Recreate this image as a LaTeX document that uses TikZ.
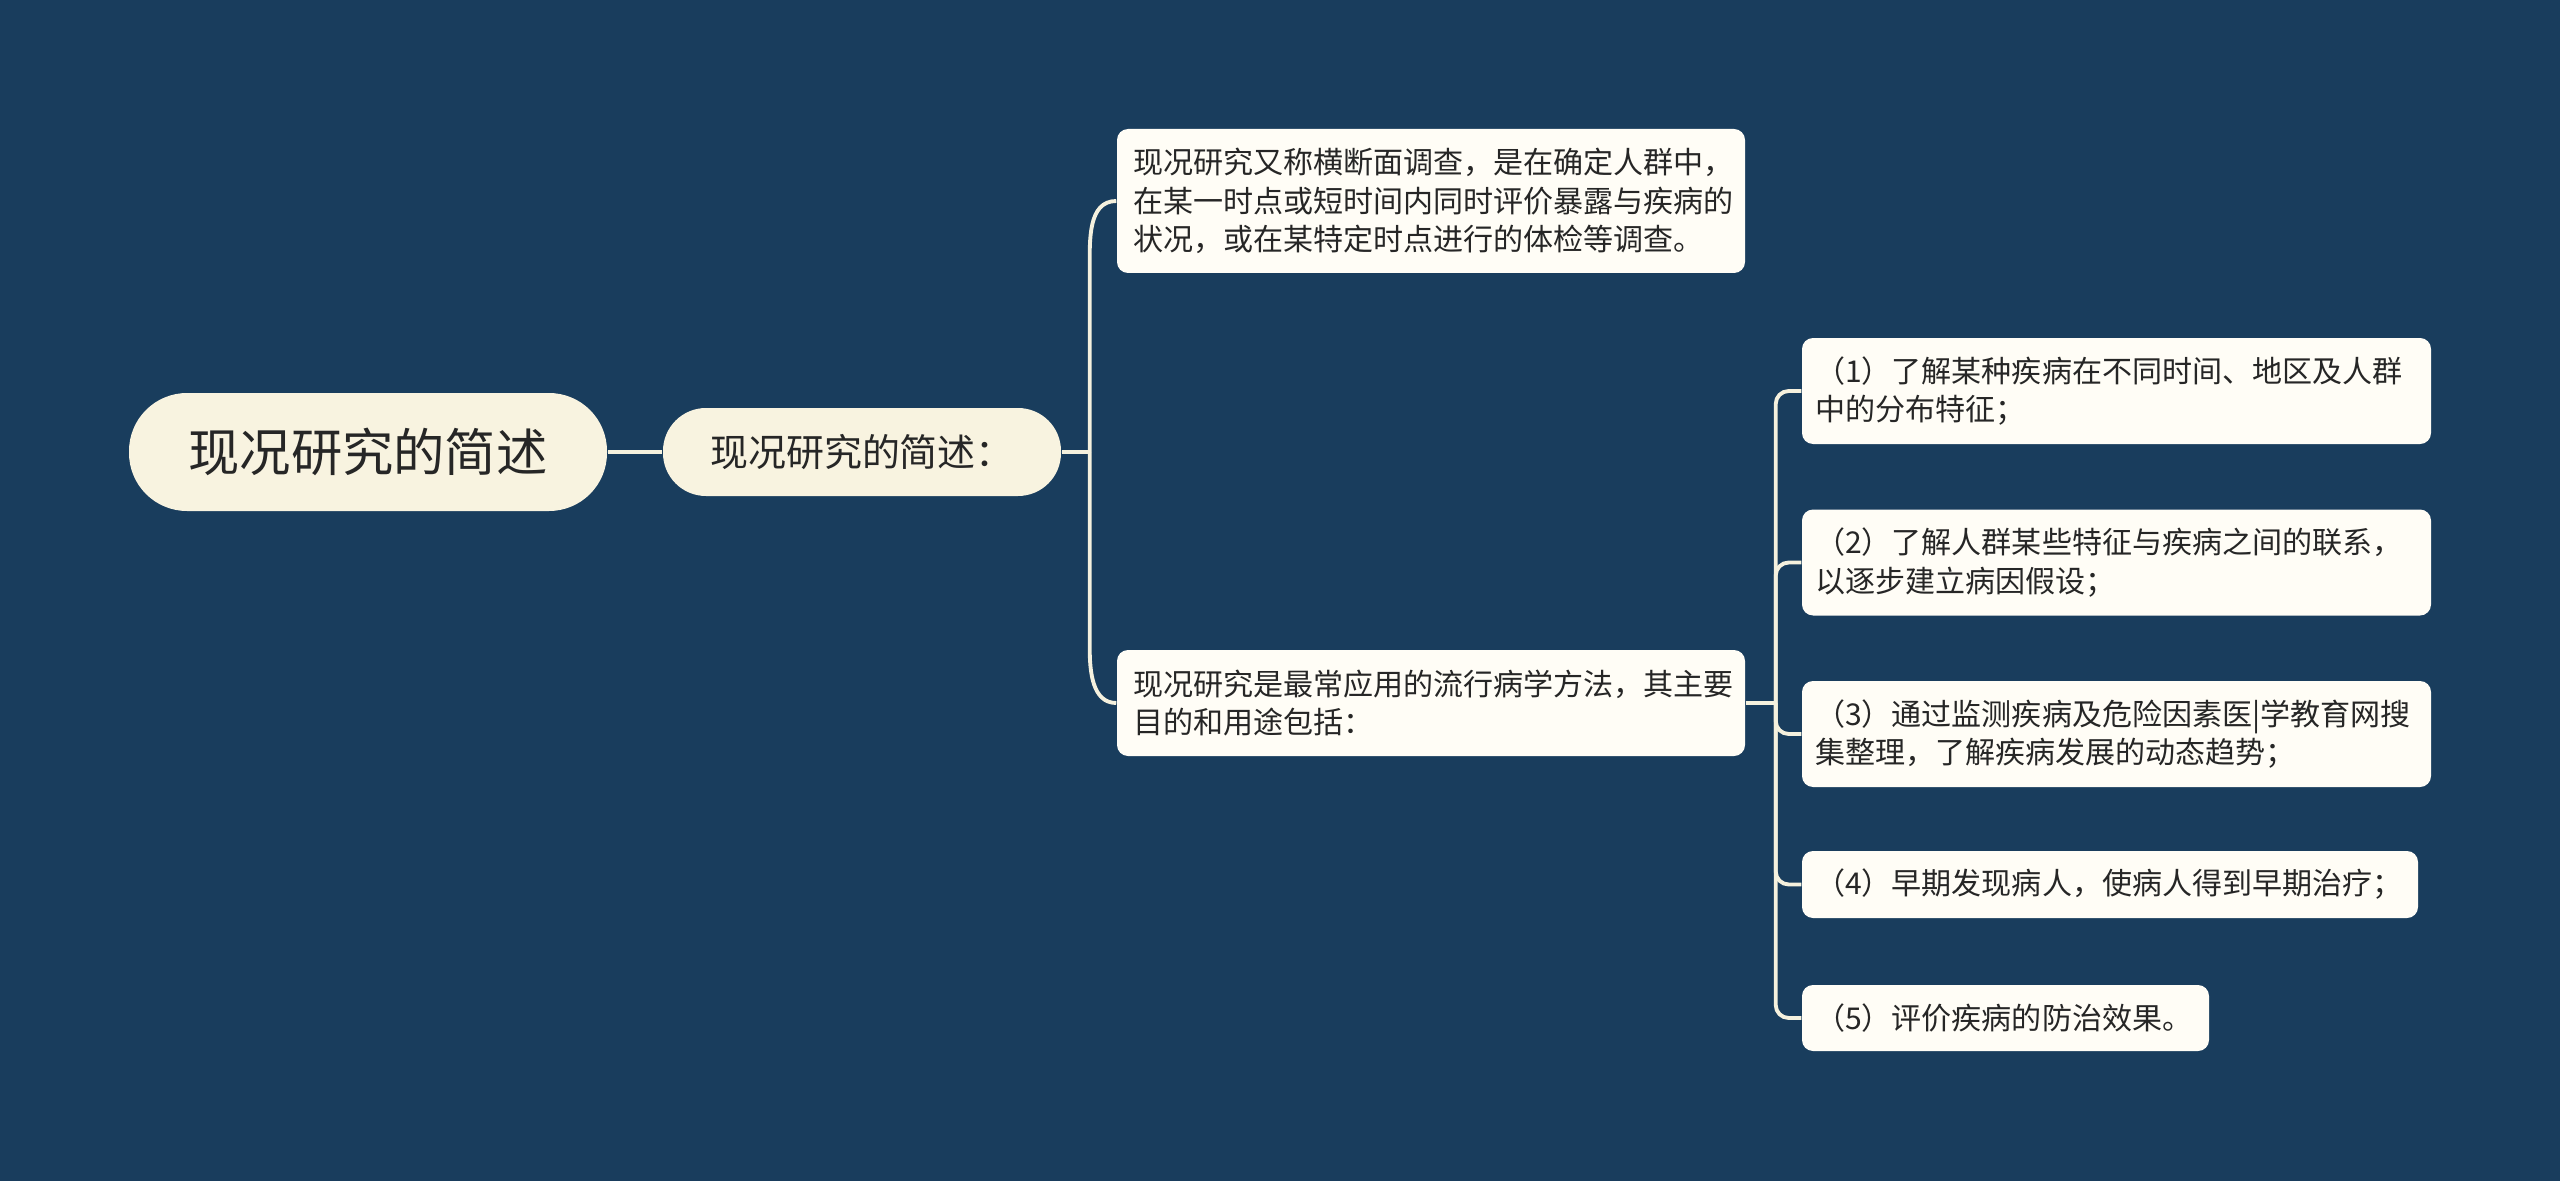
\documentclass[tikz,border=0pt]{standalone}
\usepackage{fontspec}
\setmainfont{Noto Sans CJK SC}
\usepackage{xcolor}
\usepackage{tikz}

\definecolor{bgblue}{HTML}{193D5D}
\definecolor{cream}{HTML}{F8F3E0}
\definecolor{paper}{HTML}{FFFDF6}
\definecolor{wire}{HTML}{F5F1DE}
\definecolor{ink}{HTML}{262626}

\begin{document}
\begin{tikzpicture}[
    link/.style={wire, line width=1.1pt},
    pill/.style={fill=cream, text=ink, inner sep=0pt},
    card/.style={fill=paper, text=ink, rounded corners=0.11cm, inner ysep=0pt,
        align=left, font=\fontsize{8.55}{10.9}\selectfont}
]
        % Background
        \fill[bgblue] (0, 0) rectangle (25.6, -11.81);
        \useasboundingbox (0, 0) rectangle (25.6, -11.81);

        % Root and summary
        \node[pill, rounded corners=0.58cm, minimum width=4.78cm, minimum height=1.18cm,
            font=\fontsize{14.6}{17}\selectfont] (root) at (3.68, -4.52) {现况研究的简述};
        \node[pill, rounded corners=0.43cm, minimum width=3.98cm, minimum height=0.88cm,
            font=\fontsize{10.8}{13}\selectfont] (summary) at (8.62, -4.52) {现况研究的简述：};

        % Definition and usage
        \node[card, inner xsep=0.16cm, text width=5.96cm, minimum height=1.44cm] (define) at (14.31, -2.01)
            {现况研究又称横断面调查，是在确定人群中，\\在某一时点或短时间内同时评价暴露与疾病的\\状况，或在某特定时点进行的体检等调查。};
        \node[card, inner xsep=0.16cm, text width=5.96cm, minimum height=1.06cm] (usage) at (14.31, -7.03)
            {现况研究是最常应用的流行病学方法，其主要\\目的和用途包括：};

        % Aims
        \node[card, inner xsep=0.13cm, text width=6.03cm, minimum height=1.06cm] (aim1) at (21.165, -3.91)
            {（1）了解某种疾病在不同时间、地区及人群\\中的分布特征；};
        \node[card, inner xsep=0.13cm, text width=6.03cm, minimum height=1.06cm] (aim2) at (21.165, -5.625)
            {（2）了解人群某些特征与疾病之间的联系，\\以逐步建立病因假设；};
        \node[card, inner xsep=0.13cm, text width=6.03cm, minimum height=1.06cm] (aim3) at (21.165, -7.34)
            {（3）通过监测疾病及危险因素医|学教育网搜\\集整理，了解疾病发展的动态趋势；};
        \node[card, inner xsep=0.13cm, text width=5.90cm, minimum height=0.67cm] (aim4) at (21.10, -8.845)
            {（4）早期发现病人，使病人得到早期治疗；};
        \node[card, inner xsep=0.13cm, text width=3.81cm, minimum height=0.66cm] (aim5) at (20.055, -10.18)
            {（5）评价疾病的防治效果。};

        % Links
        \draw[link] (root.east) -- (summary.east -| summary.west);
        \draw[link] (summary.east) -- ++(0.28, 0) coordinate (fork);
        \draw[link] (fork) -- ([yshift=-0.68cm]fork |- define.west) to[out=90, in=180] (define.west);
        \draw[link] (fork) -- ([yshift=0.55cm]fork |- usage.west) to[out=-90, in=180] (usage.west);

        \draw[link] (usage.east) -- ++(0.30, 0) coordinate (fork2);
        \draw[link, rounded corners=0.13cm] (fork2) |- (aim1.west);
        \draw[link, rounded corners=0.13cm] (fork2) |- (aim2.west);
        \draw[link, rounded corners=0.13cm] (fork2) |- (aim3.west);
        \draw[link, rounded corners=0.13cm] (fork2) |- (aim4.west);
        \draw[link, rounded corners=0.13cm] (fork2) |- (aim5.west);
    \end{tikzpicture}
\end{document}
